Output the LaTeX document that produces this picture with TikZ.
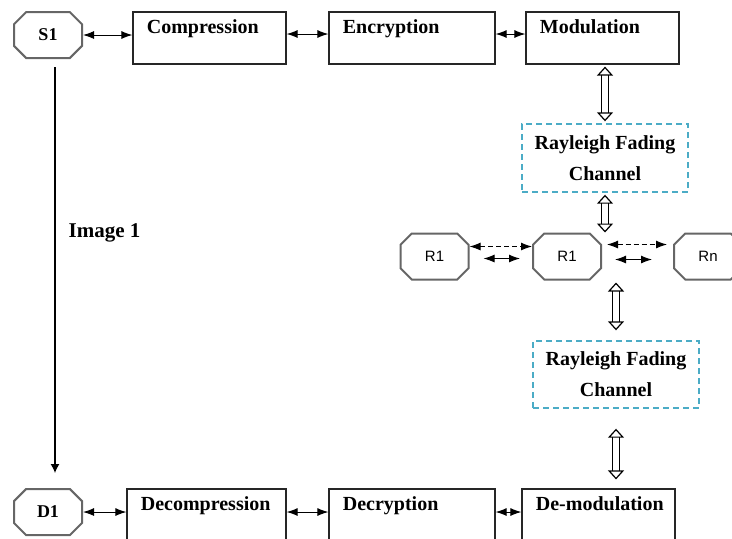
\documentclass[tikz,border=0pt]{standalone}
\usepackage{fontspec}
\setmainfont{Liberation Serif}
\setsansfont{Liberation Sans}
\usetikzlibrary{arrows.meta,shapes.misc}
\definecolor{chanblue}{RGB}{75,172,198}

\begin{document}
\begin{tikzpicture}[
    x=0.5pt, y=-0.5pt,
    >={Latex[length=5.5pt,width=4pt]},
    procbox/.style={
        draw=black!85,
        line width=0.6pt,
        minimum height=26pt,
        inner sep=0pt
    },
    boxtext/.style={
        anchor=north west,
        xshift=3.7pt,
        yshift=-0.6pt,
        font=\bfseries\fontsize{10}{12}\selectfont
    },
    octnode/.style={
        chamfered rectangle,
        chamfered rectangle xsep=6.5pt,
        draw=black!60,
        line width=1pt,
        minimum width=34pt,
        minimum height=23pt,
        inner sep=0pt
    },
    chanbox/.style={
        draw=chanblue,
        dash pattern=on 3pt off 2pt,
        line width=0.7pt,
        align=center,
        font=\bfseries\fontsize{10}{15.5}\selectfont
    },
    hollow/.style={
        double=white,
        double distance=2.8pt,
        line width=0.6pt,
        {Triangle[open,length=4.5pt,width=8pt]}-{Triangle[open,length=4.5pt,width=8pt]}
    }
]

    \clip (0,0) rectangle (732,538);

    % sender side
    \node[octnode, font=\bfseries\fontsize{9}{10}\selectfont] (S1) at (48,35) {S1};
    \node[procbox, minimum width=76.5pt, label={[boxtext]north west:Compression}] (comp) at (209.5,38) {};
    \node[procbox, minimum width=83pt, label={[boxtext]north west:Encryption}] (enc) at (412,38) {};
    \node[procbox, minimum width=76.5pt, label={[boxtext]north west:Modulation}] (mod) at (602.5,38) {};

    \draw[<->, line width=0.5pt] (S1.east) -- (S1.east -| comp.west);
    \draw[<->, line width=0.5pt] ([yshift=2pt]comp.east) -- ([yshift=2pt]enc.west);
    \draw[<->, line width=0.5pt] ([yshift=2pt]enc.east) -- ([yshift=2pt]mod.west);

    % channels and relays
    \node[chanbox, minimum width=83pt, minimum height=34pt] (ray1) at (605,158) {Rayleigh Fading\\Channel};

    \node[octnode, font=\sffamily\fontsize{7.5}{9}\selectfont] (R1a) at (434.5,256.5) {R1};
    \node[octnode, font=\sffamily\fontsize{7.5}{9}\selectfont] (R1b) at (567,256.5) {R1};
    \node[octnode, font=\sffamily\fontsize{7.5}{9}\selectfont] (Rn) at (708,256.5) {Rn};

    \node[chanbox, minimum width=83pt, minimum height=33.5pt] (ray2) at (616,374.5) {Rayleigh Fading\\Channel};

    \draw[<->, dash pattern=on 2.5pt off 1.5pt, line width=0.5pt] ([yshift=5pt]R1a.east) -- ([yshift=5pt]R1b.west);
    \draw[<->, line width=0.5pt] ([xshift=7pt,yshift=-1pt]R1a.east) -- ([xshift=-6pt,yshift=-1pt]R1b.west);
    \draw[<->, dash pattern=on 2.5pt off 1.5pt, line width=0.5pt] ([xshift=2.5pt,yshift=6pt]R1b.east) -- ([xshift=-3pt,yshift=6pt]Rn.west);
    \draw[<->, line width=0.5pt] ([xshift=6.5pt,yshift=-1.5pt]R1b.east) -- ([xshift=-10.5pt,yshift=-1.5pt]Rn.west);

    % receiver side
    \node[octnode, font=\bfseries\fontsize{9}{10}\selectfont] (D1) at (48,512) {D1};
    \node[procbox, minimum width=79.5pt, label={[boxtext]north west:Decompression}] (decomp) at (206.5,515) {};
    \node[procbox, minimum width=83pt, label={[boxtext]north west:Decryption}] (decr) at (412,515) {};
    \node[procbox, minimum width=76.5pt, label={[boxtext]north west:De-modulation}] (demod) at (598.5,515) {};

    \draw[<->, line width=0.5pt] (D1.east) -- (D1.east -| decomp.west);
    \draw[<->, line width=0.5pt] ([yshift=1.5pt]decomp.east) -- ([yshift=1.5pt]decr.west);
    \draw[<->, line width=0.5pt] ([yshift=1.5pt]decr.east) -- ([yshift=1.5pt]demod.west);

    % hollow links through the channels
    \draw[hollow, shorten <=1pt, shorten >=1pt] (ray1.north |- mod.south) -- (ray1.north);
    \draw[hollow, shorten <=1pt, shorten >=0pt] (ray1.south) -- (ray1.south |- R1b.north);
    \draw[hollow, shorten <=1pt, shorten >=5pt] (ray2.north |- R1b.south) -- (ray2.north);
    \draw[hollow, shorten <=10pt, shorten >=4.5pt] (ray2.south) -- (ray2.south |- demod.north);

    % image path
    \node[font=\bfseries\fontsize{10.5}{12}\selectfont] (imglabel) at (104.5,233) {Image 1};
    \coordinate (imgend) at (55,473);
    \draw[-{Latex[length=4.5pt,width=4.5pt]}, line width=0.6pt, shorten <=4pt] ([xshift=3.5pt]S1.south) -- (imgend);

\end{tikzpicture}
\end{document}
